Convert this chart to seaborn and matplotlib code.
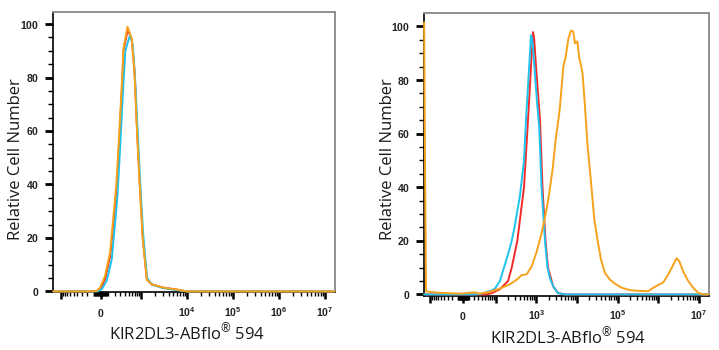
import numpy as np
import pandas as pd
import matplotlib
matplotlib.use("Agg")
import matplotlib.pyplot as plt
import matplotlib.ticker as mticker
import seaborn as sns

# ---------------- data (fluorescence intensity, relative cell number) ----------------
# Left panel (isotype / controls)
L_red_x = [-1460, -300, -111, -40, 0, 60, 130, 232, 288, 346, 372, 480, 605, 685, 710, 800, 922, 1075, 1325, 1710, 3050, 5970, 9855, 1.6e7]
L_red_y = [0, 0, 0, 0.3, 1.2, 5, 13.5, 38, 58, 79, 90, 98, 94, 84, 80, 60, 40, 20, 4.5, 2.6, 1.4, 0.7, 0, 0]
L_cyan_x = [-1460, -300, -54, 9.5, 78, 152, 246, 303, 361, 416, 546, 632, 716, 810, 932, 1090, 1337, 1726, 3050, 5970, 9855, 1.6e7]
L_cyan_y = [0, 0, 0, 0.8, 4, 12, 35, 55, 75, 90, 96, 92, 80, 62, 42, 22, 5, 2.5, 1.2, 0.5, 0, 0]
L_orange_x = [-1460, -300, -111, -54, -13, 54, 126, 228, 284, 342, 369, 471, 599, 678, 702, 794, 916, 1069, 1318, 1701, 3050, 5970, 9855, 1.6e7]
L_orange_y = [0, 0, 0, 0.3, 1.4, 5.7, 14.4, 40, 60, 80, 90.5, 99, 94.5, 84, 80, 60, 40, 20, 4.5, 2.6, 1.4, 0.7, 0, 0]

# Right panel
R_red_x = [-142, 0, 54, 78, 126, 201, 248, 341, 498, 625, 741, 830, 880, 985, 1234, 1421, 1684, 1940, 2600, 3416, 5069, 1.68e7]
R_red_y = [0, 0, 0, 0.5, 2, 5, 10, 20, 40, 65, 85, 97.9, 96, 85, 65, 40, 20, 10, 3, 0.5, 0, 0]
R_cyan_x = [-142, -60, 0, 23, 40, 78, 94, 126, 159, 201, 248, 299, 397, 498, 558, 680, 741, 784, 830, 929, 1040, 1185, 1343, 1637, 1886, 2174, 2620, 3416, 5069, 1.68e7]
R_cyan_y = [0, 0, 0, 0, 0.3, 1.5, 2.2, 5, 10, 15, 20, 26, 37, 50, 65, 87, 96.7, 96, 92, 82, 72, 62, 40, 20, 10, 6, 3, 0.5, 0, 0]
R_orange_x = [-141, -131, -126, -110, -66, -33.5, -5.4, 6.7, 23, 35.4, 69, 126, 225, 329, 436, 580, 771, 1024, 1359, 1801,
              2089, 2531, 3002, 3476, 3824, 4614, 5277, 6130, 7142, 8121, 8943, 10207, 11408, 12545, 13809, 15737, 18328,
              22120, 26670, 32295, 38931, 48822, 64780, 85952, 125452, 200660, 353288, 566588, 748920, 992240,
              1.324e6, 1.754e6, 2.32e6, 2.80e6, 3.25e6, 4.10e6, 5.42e6, 7.17e6, 9.57e6, 1.27e7, 1.68e7]
R_orange_y = [101.5, 30, 1.2, 1.0, 0.7, 0.5, 0.3, 0.5, 0.8, 0.3, 1, 2.2, 3.8, 5.5, 7.2, 7.5, 10.5, 16, 23, 32,
              38, 47, 58, 65, 70, 85, 88.6, 95.4, 98.5, 98, 93.7, 94.4, 88, 85.5, 82, 70, 55,
              42, 28, 20, 13, 8, 5.5, 4, 2.5, 1.6, 1.3, 1.2, 2.5, 3.5,
              4.5, 7.5, 11, 13.5, 12.5, 8.5, 5, 2.5, 0.6, 0, 0]

series_names = ["red", "cyan", "orange"]
colors = {"red": "#F42A2A", "cyan": "#1EC3EE", "orange": "#F7A21B"}

y_ticks = [0, 20, 40, 60, 80, 100]
y_ticklabels = ["0", "20", "40", "60", "80", "100"]
L_xticks = [-1e3, 0, 1e3, 1e4, 1e5, 1e6, 1e7]
L_xticklabels = ["", "0", "", "10^4", "10^5", "10^6", "10^7"]
R_xticks = [-1e2, 0, 1e2, 1e3, 1e4, 1e5, 1e6, 1e7]
R_xticklabels = ["", "0", "", "10^3", "", "10^5", "", "10^7"]
x_label = "KIR2DL3-ABflo$^{\\mathrm{®}}$ 594"
y_label = "Relative Cell Number"

# ---------------- style ----------------
sns.set_style("ticks")
plt.rcParams["font.family"] = ["Open Sans", "DejaVu Sans"]
plt.rcParams["mathtext.fontset"] = "custom"
plt.rcParams["mathtext.rm"] = "Open Sans"
plt.rcParams["mathtext.bf"] = "Liberation Sans:bold"


def make_df(xs, ys):
    frames = []
    for name, x, y in zip(series_names, xs, ys):
        frames.append(pd.DataFrame({"x": x, "y": y, "series": name}))
    return pd.concat(frames, ignore_index=True)


def fmt_label(s):
    if s == "":
        return ""
    if "^" in s:
        b, e = s.split("^")
        return r"$\mathbf{%s^{%s}}$" % (b, e)
    return r"$\mathbf{%s}$" % s


def minor_ticks(neg_max_exp, pos_max_exp, lo):
    t = []
    for k in range(0, pos_max_exp + 1):
        for m in range(1, 10):
            v = m * 10 ** k
            if v not in (1e3, 1e4, 1e5, 1e6, 1e7, 100):
                t.append(v)
    for k in range(0, neg_max_exp + 1):
        for m in range(1, 10):
            v = -m * 10 ** k
            if v > lo:
                t.append(v)
    return t


fig = plt.figure(figsize=(7.19, 3.5), dpi=100)
ax1 = fig.add_axes([0.0741, 0.1643, 0.3921, 0.8006])
ax2 = fig.add_axes([0.5897, 0.1557, 0.3964, 0.8063])

panels = [
    (ax1, make_df([L_red_x, L_cyan_x, L_orange_x], [L_red_y, L_cyan_y, L_orange_y]), 270, (-1460, 1.66e7),
     (-0.4, 104.4), L_xticks, L_xticklabels, minor_ticks(2, 6, -1460), (0.476, -0.1445), (-0.134, 0.476)),
    (ax2, make_df([R_red_x, R_cyan_x, R_orange_x], [R_red_y, R_cyan_y, R_orange_y]), 31.6, (-142, 1.76e7),
     (-0.4, 104.9), R_xticks, R_xticklabels, minor_ticks(2, 6, -142), (0.505, -0.147), (-0.126, 0.484)),
]

for ax, df, lw_, xlim, ylim, xt, xtl, xminor, xlc, ylc in panels:
    sns.lineplot(data=df, x="x", y="y", hue="series", hue_order=series_names, palette=colors,
                 estimator=None, sort=False, legend=False, ax=ax, linewidth=1.4)
    for ln in ax.lines:
        ln.set_clip_on(False)
        ln.set_zorder(5)
    ax.set_xscale("asinh", linear_width=lw_)
    ax.set_xlim(*xlim)
    ax.set_ylim(*ylim)
    ax.xaxis.set_major_locator(mticker.FixedLocator(xt))
    ax.xaxis.set_major_formatter(mticker.FixedFormatter([fmt_label(s) for s in xtl]))
    ax.xaxis.set_minor_locator(mticker.FixedLocator([v for v in xminor if xlim[0] < v < xlim[1]]))
    ax.xaxis.set_minor_formatter(mticker.NullFormatter())
    ax.yaxis.set_major_locator(mticker.FixedLocator(y_ticks))
    ax.yaxis.set_major_formatter(mticker.FixedFormatter([fmt_label(s) for s in y_ticklabels]))
    ax.yaxis.set_minor_locator(mticker.MultipleLocator(5))

    ax.tick_params(axis="x", which="major", length=5, width=1.8, color="black", direction="out",
                   pad=12.5, labelsize=7.5, labelcolor="#222222")
    ax.tick_params(axis="x", which="minor", length=3, width=1.0, color="black", direction="out")
    ax.tick_params(axis="y", which="major", length=6, width=2.0, color="black", direction="out",
                   pad=4, labelsize=7.5, labelcolor="#222222")
    ax.tick_params(axis="y", which="minor", length=3.5, width=1.0, color="black", direction="out")
    for lab in ax.get_xticklabels():
        lab.set_verticalalignment("baseline")

    for side in ("left", "bottom"):
        ax.spines[side].set_color("black")
        ax.spines[side].set_linewidth(1.2)
    for side in ("top", "right"):
        ax.spines[side].set_visible(True)
        ax.spines[side].set_color("#8f8f8f")
        ax.spines[side].set_linewidth(1.4)

    ax.set_xlabel(x_label, fontsize=12, color="#1a1a1a")
    ax.set_ylabel(y_label, fontsize=12, color="#1a1a1a")
    ax.xaxis.set_label_coords(*xlc)
    ax.xaxis.label.set_verticalalignment("center")
    ax.yaxis.set_label_coords(*ylc)
    ax.yaxis.label.set_verticalalignment("center")

fig.savefig("out.png", dpi=100, facecolor="white")
